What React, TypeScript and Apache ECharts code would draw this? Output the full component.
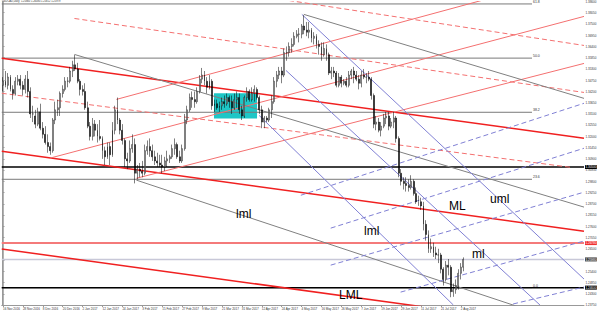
import React, { useEffect, useRef } from "react";
import * as echarts from "echarts";

// x-axis tick labels, one every 8 bars
const tickLabels = [
  "16 Nov 2016", "28 Nov 2016", "8 Dec 2016", "20 Dec 2016", "2 Jan 2017", "12 Jan 2017",
  "24 Jan 2017", "3 Feb 2017", "15 Feb 2017", "27 Feb 2017", "9 Mar 2017", "21 Mar 2017",
  "31 Mar 2017", "12 Apr 2017", "24 Apr 2017", "4 May 2017", "16 May 2017", "26 May 2017",
  "7 Jun 2017", "19 Jun 2017", "29 Jun 2017", "11 Jul 2017", "21 Jul 2017", "2 Aug 2017",
];

// USDCAD daily bars [open, high, low, close], 16 Nov 2016 .. 3 Aug 2017
const ohlc: number[][] = [
  [1.3450, 1.3490, 1.3420, 1.3470], [1.3470, 1.3520, 1.3440, 1.3450], [1.3450, 1.3510, 1.3430, 1.3490],
  [1.3490, 1.3500, 1.3420, 1.3430], [1.3430, 1.3450, 1.3380, 1.3410], [1.3410, 1.3490, 1.3400, 1.3470],
  [1.3470, 1.3500, 1.3450, 1.3480], [1.3480, 1.3500, 1.3430, 1.3450], [1.3450, 1.3470, 1.3400, 1.3430],
  [1.3430, 1.3500, 1.3410, 1.3480], [1.3480, 1.3520, 1.3390, 1.3420],
  // Dec
  [1.3420, 1.3440, 1.3290, 1.3310], [1.3310, 1.3350, 1.3270, 1.3310], [1.3300, 1.3330, 1.3240, 1.3260],
  [1.3260, 1.3340, 1.3250, 1.3320], [1.3320, 1.3360, 1.3230, 1.3240], [1.3240, 1.3270, 1.3190, 1.3210],
  [1.3210, 1.3250, 1.3160, 1.3170], [1.3170, 1.3210, 1.3120, 1.3150], [1.3150, 1.3170, 1.3110, 1.3130],
  [1.3130, 1.3290, 1.3120, 1.3280], [1.3280, 1.3370, 1.3260, 1.3330], [1.3330, 1.3380, 1.3300, 1.3340],
  [1.3340, 1.3420, 1.3300, 1.3410], [1.3410, 1.3450, 1.3390, 1.3430], [1.3430, 1.3490, 1.3420, 1.3470],
  [1.3470, 1.3490, 1.3440, 1.3470], [1.3470, 1.3540, 1.3460, 1.3520], [1.3520, 1.3570, 1.3490, 1.3550],
  [1.3550, 1.3598, 1.3520, 1.3530], [1.3530, 1.3560, 1.3460, 1.3470], [1.3470, 1.3480, 1.3400, 1.3430],
  // Jan
  [1.3430, 1.3450, 1.3400, 1.3420], [1.3420, 1.3460, 1.3330, 1.3340], [1.3340, 1.3370, 1.3240, 1.3250],
  [1.3250, 1.3270, 1.3180, 1.3200], [1.3200, 1.3290, 1.3180, 1.3260], [1.3260, 1.3280, 1.3200, 1.3230],
  [1.3230, 1.3260, 1.3170, 1.3200], [1.3200, 1.3280, 1.3180, 1.3190], [1.3190, 1.3200, 1.3090, 1.3130],
  [1.3130, 1.3150, 1.3060, 1.3100], [1.3100, 1.3170, 1.3090, 1.3150], [1.3150, 1.3170, 1.3060, 1.3110],
  [1.3110, 1.3270, 1.3100, 1.3230], [1.3230, 1.3350, 1.3210, 1.3330], [1.3330, 1.3390, 1.3260, 1.3280],
  [1.3280, 1.3290, 1.3210, 1.3230], [1.3230, 1.3260, 1.3160, 1.3180], [1.3180, 1.3190, 1.3050, 1.3090],
  [1.3090, 1.3120, 1.3040, 1.3080], [1.3080, 1.3180, 1.3070, 1.3140], [1.3140, 1.3210, 1.3120, 1.3160],
  [1.3160, 1.3190, 1.2970, 1.3020],
  // Feb
  [1.3020, 1.3060, 1.2990, 1.3040], [1.3040, 1.3070, 1.3000, 1.3030], [1.3030, 1.3080, 1.3000, 1.3020],
  [1.3020, 1.3160, 1.3010, 1.3130], [1.3130, 1.3180, 1.3110, 1.3150], [1.3150, 1.3190, 1.3100, 1.3130],
  [1.3130, 1.3160, 1.3080, 1.3100], [1.3100, 1.3130, 1.3060, 1.3080], [1.3080, 1.3120, 1.3050, 1.3070],
  [1.3070, 1.3110, 1.3050, 1.3060], [1.3060, 1.3110, 1.3020, 1.3050], [1.3050, 1.3100, 1.3030, 1.3080],
  [1.3080, 1.3130, 1.3050, 1.3090], [1.3090, 1.3110, 1.3070, 1.3100], [1.3100, 1.3160, 1.3090, 1.3140],
  [1.3140, 1.3190, 1.3110, 1.3160], [1.3160, 1.3170, 1.3090, 1.3100], [1.3100, 1.3130, 1.3070, 1.3080],
  [1.3080, 1.3160, 1.3070, 1.3140], [1.3140, 1.3310, 1.3130, 1.3280],
  // Mar
  [1.3280, 1.3350, 1.3260, 1.3330], [1.3330, 1.3410, 1.3320, 1.3390], [1.3390, 1.3420, 1.3340, 1.3380],
  [1.3380, 1.3420, 1.3340, 1.3370], [1.3370, 1.3440, 1.3360, 1.3420], [1.3420, 1.3500, 1.3410, 1.3480],
  [1.3480, 1.3535, 1.3460, 1.3500], [1.3500, 1.3520, 1.3450, 1.3470], [1.3470, 1.3490, 1.3410, 1.3440],
  [1.3440, 1.3500, 1.3430, 1.3470], [1.3470, 1.3480, 1.3330, 1.3350], [1.3350, 1.3380, 1.3320, 1.3360],
  [1.3360, 1.3380, 1.3330, 1.3340], [1.3340, 1.3370, 1.3320, 1.3350], [1.3350, 1.3390, 1.3330, 1.3370],
  [1.3370, 1.3400, 1.3340, 1.3360], [1.3360, 1.3410, 1.3350, 1.3390], [1.3390, 1.3400, 1.3340, 1.3370],
  [1.3370, 1.3400, 1.3310, 1.3340], [1.3340, 1.3410, 1.3330, 1.3380], [1.3380, 1.3420, 1.3340, 1.3390],
  [1.3390, 1.3410, 1.3310, 1.3330], [1.3330, 1.3350, 1.3280, 1.3300],
  // Apr
  [1.3300, 1.3400, 1.3290, 1.3390], [1.3390, 1.3440, 1.3370, 1.3420], [1.3420, 1.3430, 1.3370, 1.3380],
  [1.3380, 1.3440, 1.3370, 1.3410], [1.3410, 1.3450, 1.3370, 1.3430], [1.3430, 1.3440, 1.3380, 1.3390],
  [1.3390, 1.3400, 1.3310, 1.3330], [1.3330, 1.3350, 1.3240, 1.3270], [1.3270, 1.3300, 1.3240, 1.3290],
  [1.3290, 1.3300, 1.3270, 1.3280], [1.3280, 1.3340, 1.3270, 1.3330], [1.3330, 1.3400, 1.3290, 1.3370],
  [1.3370, 1.3490, 1.3360, 1.3470], [1.3470, 1.3520, 1.3440, 1.3500], [1.3500, 1.3540, 1.3480, 1.3520],
  [1.3520, 1.3540, 1.3460, 1.3500], [1.3500, 1.3630, 1.3490, 1.3610], [1.3610, 1.3640, 1.3570, 1.3610],
  [1.3610, 1.3660, 1.3590, 1.3640], [1.3640, 1.3680, 1.3610, 1.3650],
  // May
  [1.3650, 1.3710, 1.3640, 1.3690], [1.3690, 1.3720, 1.3680, 1.3700], [1.3700, 1.3730, 1.3660, 1.3700],
  [1.3700, 1.3750, 1.3680, 1.3740], [1.3740, 1.3793, 1.3700, 1.3720], [1.3720, 1.3760, 1.3690, 1.3710],
  [1.3710, 1.3760, 1.3680, 1.3720], [1.3720, 1.3730, 1.3660, 1.3680], [1.3680, 1.3710, 1.3650, 1.3690],
  [1.3690, 1.3700, 1.3630, 1.3650], [1.3650, 1.3670, 1.3600, 1.3640], [1.3640, 1.3660, 1.3570, 1.3600],
  [1.3600, 1.3660, 1.3590, 1.3630], [1.3630, 1.3650, 1.3570, 1.3600], [1.3600, 1.3610, 1.3500, 1.3510],
  [1.3510, 1.3540, 1.3480, 1.3520], [1.3520, 1.3540, 1.3490, 1.3510], [1.3510, 1.3520, 1.3440, 1.3450],
  [1.3450, 1.3510, 1.3440, 1.3490], [1.3490, 1.3500, 1.3440, 1.3460], [1.3460, 1.3480, 1.3450, 1.3470],
  [1.3470, 1.3490, 1.3440, 1.3450], [1.3450, 1.3520, 1.3440, 1.3500],
  // Jun
  [1.3500, 1.3530, 1.3480, 1.3520], [1.3520, 1.3540, 1.3460, 1.3500], [1.3500, 1.3520, 1.3470, 1.3480],
  [1.3480, 1.3500, 1.3430, 1.3460], [1.3460, 1.3520, 1.3440, 1.3500], [1.3500, 1.3530, 1.3480, 1.3490],
  [1.3490, 1.3510, 1.3460, 1.3490], [1.3490, 1.3520, 1.3470, 1.3480], [1.3480, 1.3490, 1.3380, 1.3400],
  [1.3400, 1.3410, 1.3240, 1.3260], [1.3260, 1.3300, 1.3230, 1.3270], [1.3270, 1.3290, 1.3220, 1.3230],
  [1.3230, 1.3270, 1.3200, 1.3250], [1.3250, 1.3310, 1.3240, 1.3290], [1.3290, 1.3320, 1.3260, 1.3300],
  [1.3300, 1.3320, 1.3230, 1.3250], [1.3250, 1.3290, 1.3240, 1.3270], [1.3270, 1.3320, 1.3240, 1.3290],
  [1.3290, 1.3300, 1.3170, 1.3190], [1.3190, 1.3200, 1.3000, 1.3020], [1.3020, 1.3040, 1.2960, 1.2980],
  [1.2980, 1.3000, 1.2940, 1.2970],
  // Jul
  [1.2970, 1.3000, 1.2930, 1.2960], [1.2960, 1.2990, 1.2930, 1.2950], [1.2950, 1.3010, 1.2940, 1.2980],
  [1.2980, 1.2990, 1.2910, 1.2920], [1.2920, 1.2950, 1.2870, 1.2880], [1.2880, 1.2910, 1.2860, 1.2880],
  [1.2880, 1.2900, 1.2840, 1.2860], [1.2860, 1.2880, 1.2740, 1.2770], [1.2770, 1.2790, 1.2690, 1.2720],
  [1.2720, 1.2740, 1.2630, 1.2650], [1.2650, 1.2700, 1.2630, 1.2660], [1.2660, 1.2680, 1.2610, 1.2630],
  [1.2630, 1.2660, 1.2600, 1.2620], [1.2620, 1.2650, 1.2580, 1.2620], [1.2620, 1.2630, 1.2530, 1.2550],
  [1.2550, 1.2560, 1.2470, 1.2500], [1.2500, 1.2590, 1.2490, 1.2570], [1.2570, 1.2600, 1.2520, 1.2560],
  [1.2560, 1.2570, 1.2413, 1.2440], [1.2440, 1.2480, 1.2415, 1.2450], [1.2450, 1.2500, 1.2430, 1.2470],
  // Aug
  [1.2470, 1.2550, 1.2450, 1.2530], [1.2530, 1.2580, 1.2500, 1.2560], [1.2560, 1.2608, 1.2540, 1.2598],
];

const slots = 234; // bars + empty space to the right
const title = "USDCAD,Daily  1.25860 1.26080 1.25812 1.25979";

// Fibonacci retracement
const fibLow = 1.246;
const fibHigh = 1.4706;
const fibLevels = [0, 23.6, 38.2, 50.0, 61.8];
const fibEndBar = 212.6;

// horizontal price lines
const hLines = [
  { price: 1.3050, color: "#000000", width: 1.5, bg: "#000000" },
  { price: 1.2678, color: "#f47a7a", width: 2, bg: "#f03030" },
  { price: 1.2598, color: "#c8c8d8", width: 1.5, bg: "#404040" },
  { price: 1.2460, color: "#000000", width: 1.5, bg: "#000000" },
];

// trend lines [bar1, price1, bar2, price2]
const redSolid = [
  [-0.5, 1.3582, 233.5, 1.3191],
  [-0.5, 1.3127, 233.5, 1.2736],
  [-0.5, 1.2649, 233.5, 1.2258],
];
const redThin = [
  [45.6, 1.3381, 233.5, 1.4001],
  [18.7, 1.3093, 233.5, 1.3787],
  [53.6, 1.2995, 233.5, 1.3557],
];
const redDashed = [
  [28.7, 1.3777, 233.5, 1.3415],
  [114.9, 1.3865, 233.5, 1.3645],
  [-0.5, 1.3411, 227.9, 1.3049],
];
const graySolid = [
  [28.7, 1.3601, 233.5, 1.2854],
  [120.9, 1.3797, 233.5, 1.3386],
  [53.6, 1.2986, 214.6, 1.2336],
];
const blueSolid = [
  [120.1, 1.3797, 233.5, 1.2502],
  [113.7, 1.3523, 215.8, 1.2375],
  [102.9, 1.3303, 181.0, 1.2375],
];
const blueDashed = [
  [119.7, 1.2912, 233.5, 1.3362],
  [131.7, 1.2751, 233.5, 1.3142],
  [131.7, 1.2570, 233.5, 1.2927],
  [159.8, 1.2438, 233.5, 1.2688],
  [205.0, 1.2380, 233.5, 1.2463],
];
const box = [84.8, 1.3411, 102.1, 1.3288];

const notes = [
  { text: "lml", left: 236, top: 208 },
  { text: "lml", left: 364, top: 225 },
  { text: "ML", left: 449, top: 200 },
  { text: "uml", left: 490, top: 193 },
  { text: "ml", left: 472, top: 248 },
  { text: "LML", left: 339, top: 289 },
];

export default function App() {
  const ref = useRef<HTMLDivElement>(null);
  useEffect(() => {
    if (!ref.current) return;
    document.body.style.margin = "0";
    const chart = echarts.init(ref.current, undefined, { renderer: "svg" });
    const cats = Array.from({ length: slots }, (_, i) => String(i));
    const showTick = (i: number) => i % 8 === 0 && i / 8 < tickLabels.length;

    const seg = (s: number[], color: string, width: number, type: any, z = 4) => ({
      type: "line",
      xAxisIndex: 1,
      yAxisIndex: 0,
      data: [[s[0], s[1]], [s[2], s[3]]],
      symbol: "none",
      silent: true,
      animation: false,
      z,
      lineStyle: { color, width, type },
    });

    const series: any[] = [];
    series.push({
      type: "line",
      xAxisIndex: 1,
      yAxisIndex: 0,
      data: [],
      symbol: "none",
      z: 1,
      markArea: {
        silent: true,
        itemStyle: { color: "#1ec6c6", opacity: 1 },
        data: [[{ coord: [box[0], box[1]] }, { coord: [box[2], box[3]] }]],
      },
    });
    fibLevels.forEach((lv) => {
      const p = fibLow + (lv / 100) * (fibHigh - fibLow);
      series.push({
        ...seg([-0.5, p, fibEndBar, p], "#7a7a7a", 1, "solid", 3),
        endLabel: { show: true, formatter: lv.toFixed(1), fontSize: 3.5, color: "#333", distance: 1, offset: [0, -2] },
      });
    });
    hLines.forEach((h) => {
      series.push({
        ...seg([-0.5, h.price, slots - 0.5, h.price], h.color, h.width, "solid", 3),
        endLabel: {
          show: true,
          formatter: h.price.toFixed(5),
          fontSize: 3,
          color: "#fff",
          backgroundColor: h.bg,
          padding: [0.5, 0.5],
          distance: 1,
        },
      });
    });
    redSolid.forEach((s) => series.push(seg(s, "#f02020", 1.5, "solid")));
    redThin.forEach((s) => series.push(seg(s, "#f47070", 1, "solid")));
    redDashed.forEach((s) => series.push(seg(s, "#f47070", 1, [5, 3])));
    graySolid.forEach((s) => series.push(seg(s, "#808080", 1, "solid")));
    blueSolid.forEach((s) => series.push(seg(s, "#8080d4", 1, "solid")));
    blueDashed.forEach((s) => series.push(seg(s, "#8080d4", 1, [5, 3])));

    series.push({
      type: "candlestick",
      xAxisIndex: 0,
      yAxisIndex: 0,
      z: 5,
      barWidth: 1.4,
      data: ohlc.map((r) => [r[0], r[3], r[2], r[1]]),
      itemStyle: {
        color: "#ffffff",
        color0: "#000000",
        borderColor: "#000000",
        borderColor0: "#000000",
        borderWidth: 0.5,
      },
    });

    chart.setOption({
      animation: false,
      backgroundColor: "#ffffff",
      grid: { left: 0, right: 16, top: 1, bottom: 8 },
      xAxis: [
        {
          type: "category",
          data: cats,
          boundaryGap: true,
          axisLine: { lineStyle: { color: "#999", width: 1 } },
          axisTick: { show: true, interval: (i: number) => showTick(i), alignWithLabel: true, length: 2, lineStyle: { color: "#999" } },
          axisLabel: {
            interval: (i: number) => showTick(i),
            formatter: (_v: string, i: number) => tickLabels[i / 8] ?? "",
            fontSize: 3,
            color: "#333",
            align: "left",
            margin: 2,
            fontFamily: "Liberation Sans",
          },
          splitLine: { show: false },
        },
        { type: "value", min: -0.5, max: slots - 0.5, show: false },
      ],
      yAxis: [
        {
          type: "value",
          position: "right",
          min: 1.2375,
          max: 1.386,
          interval: 0.0055,
          scale: true,
          axisLine: { show: true, lineStyle: { color: "#999", width: 1.5 } },
          axisTick: { show: true, length: 1.5, lineStyle: { color: "#999" } },
          axisLabel: { fontSize: 3, color: "#333", margin: 1.5, formatter: (v: number) => v.toFixed(5), fontFamily: "Liberation Sans" },
          splitLine: { show: false },
        },
        {
          type: "value",
          position: "left",
          min: 1.2375,
          max: 1.386,
          axisLine: { show: true, lineStyle: { color: "#999", width: 1 } },
          axisTick: { show: false },
          axisLabel: { show: false },
          splitLine: { show: false },
        },
      ],
      graphic: [
        { type: "text", left: 2, top: 0, style: { text: title, fontSize: 2.6, fill: "#333", fontFamily: "Liberation Sans" } },
        ...notes.map((n) => ({
          type: "text",
          left: n.left,
          top: n.top,
          z: 100,
          style: { text: n.text, fontSize: 12, fill: "#000", fontFamily: "Liberation Sans" },
        })),
      ],
      series,
    });
    return () => chart.dispose();
  }, []);
  return <div ref={ref} style={{ width: 600, height: 313 }} />;
}
